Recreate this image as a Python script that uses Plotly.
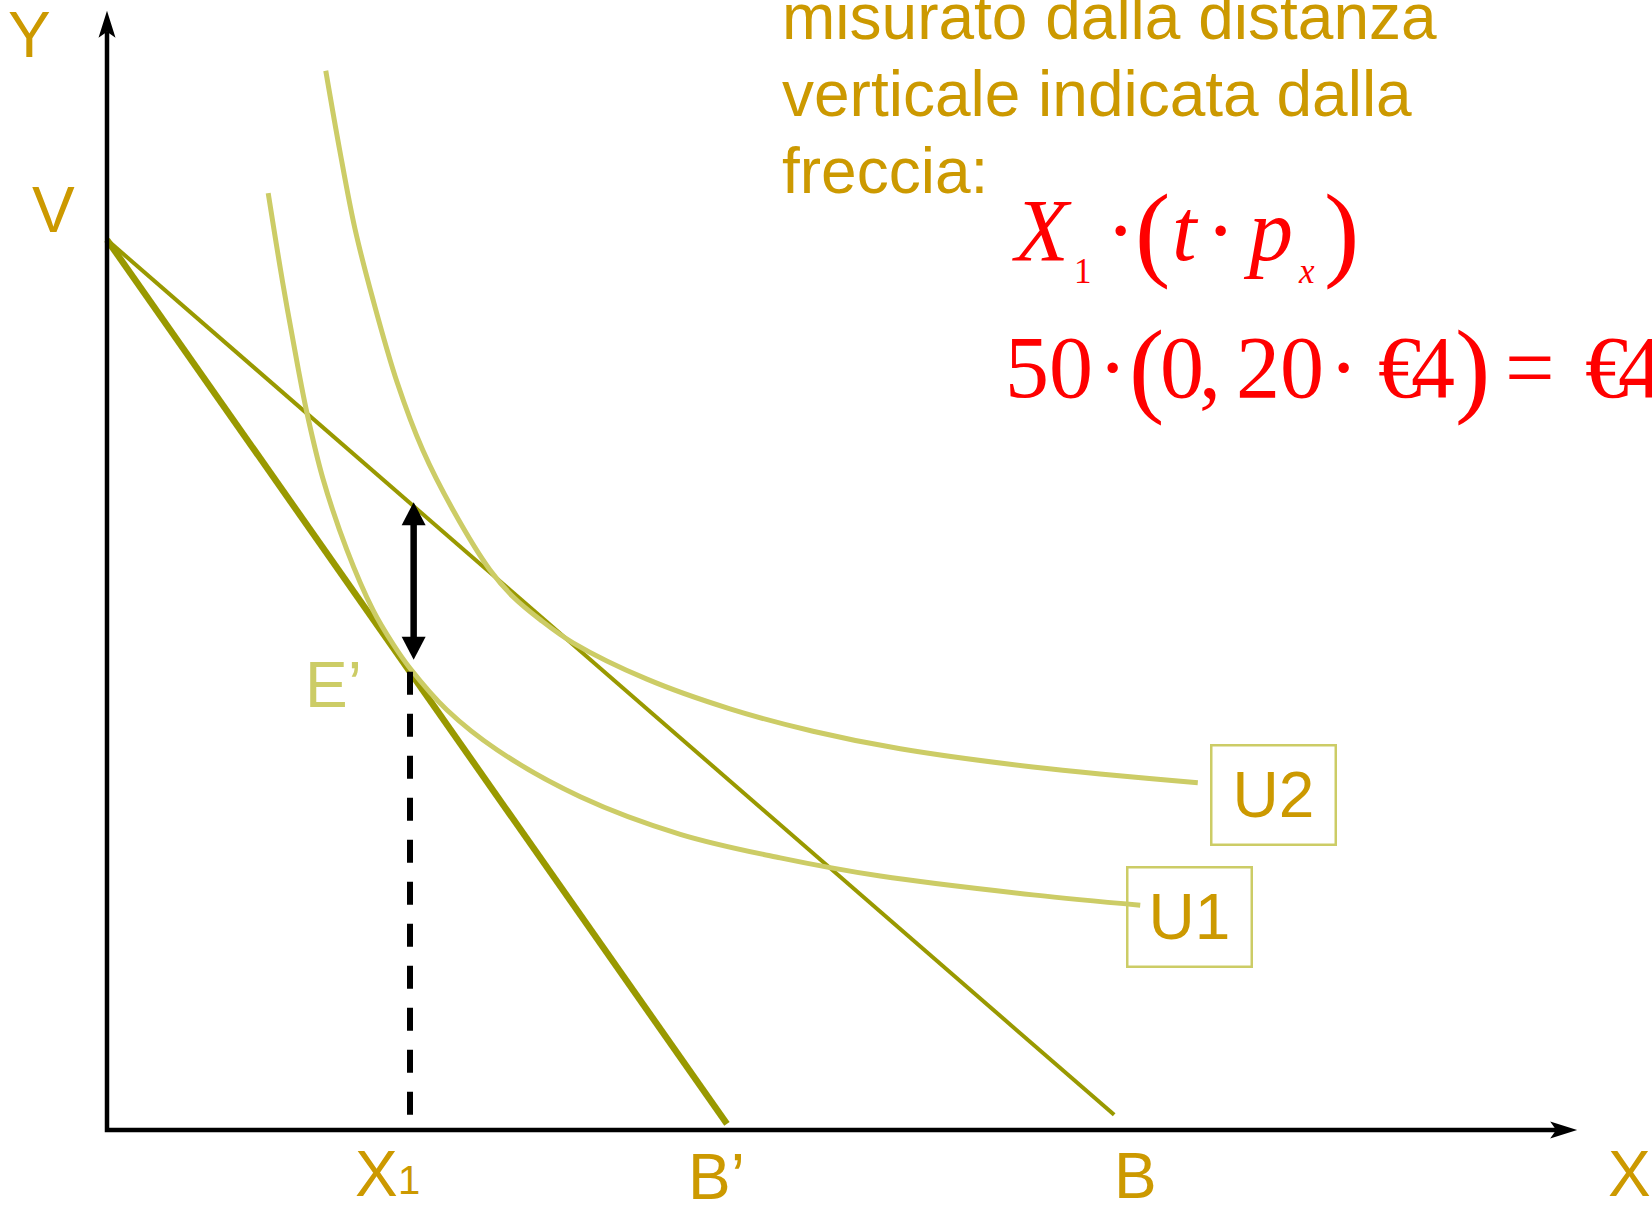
import plotly.graph_objects as go

# ---------------- data (units of good X / good Y) ----------------
x_axis_end = 242.6          # tip of the X axis arrow
y_axis_end = 184.7          # tip of the Y axis arrow

V = 146.9                   # common Y intercept of the budget lines
B_prime_end = [102.3, 1.0]  # end of budget line B'
B_end = [166.2, 2.5]        # end of budget line B

U1_x = [26.6, 29.0, 31.5, 33.0, 35.6, 39.6, 43.9, 47.2, 50.0, 56.1, 64.4, 78.1, 94.6, 111.1, 127.6, 152.8, 170.5]
U1_y = [154.6, 139.8, 125.9, 118.3, 107.6, 95.7, 85.8, 80.2, 76.2, 69.3, 62.7, 55.0, 48.8, 44.9, 41.9, 38.8, 37.1]
U2_x = [36.1, 38.4, 40.9, 43.9, 47.9, 52.1, 57.1, 63.2, 67.0, 71.5, 76.9, 89.1, 102.8, 116.5, 130.9, 152.8, 180.0]
U2_y = [174.8, 161.7, 148.8, 137.0, 123.3, 112.2, 102.3, 92.4, 88.0, 84.2, 80.4, 74.4, 69.5, 65.8, 62.9, 59.9, 57.3]

X1 = 50.0                   # quantity X1
dash_top, dash_bottom = 75.6, 2.5
arrow_x = 50.6
arrow_top, arrow_bottom = 103.6, 77.6

axis_labels = ["Y", "V", "X", "B’", "B"]
curve_labels = ["U1", "U2"]
note_lines = ["misurato dalla distanza", "verticale indicata dalla", "freccia:"]

# ---------------- styling ----------------
W, H = 1652, 1208
K = 6.06                    # pixels per unit
OX, OY = 107, 1130          # pixel position of the origin
GOLD = "#CC9900"
OLIVE = "#999900"
LIGHT = "#CCCC66"
RED = "#FF0000"
SANS = "Liberation Sans, Arial, sans-serif"
SERIF = "Liberation Serif, Times New Roman, serif"

fig = go.Figure()


def line(x, y, color, width, dash=None, shape="linear"):
    fig.add_trace(go.Scatter(x=x, y=y, mode="lines", hoverinfo="skip", showlegend=False,
                             line=dict(color=color, width=width, dash=dash, shape=shape,
                                       smoothing=1.0 if shape == "spline" else None)))


def head(tip_x, tip_y, dx, dy, length, half_w, notch=0.0):
    bx, by = tip_x - length * dx, tip_y - length * dy
    nx, ny = -dy, dx
    xs = [tip_x, bx + half_w * nx, tip_x - (length - notch) * dx, bx - half_w * nx, tip_x]
    ys = [tip_y, by + half_w * ny, tip_y - (length - notch) * dy, by - half_w * ny, tip_y]
    fig.add_trace(go.Scatter(x=xs, y=ys, mode="lines", fill="toself", fillcolor="black",
                             line=dict(color="black", width=0), hoverinfo="skip", showlegend=False))


# budget lines
line([0, B_prime_end[0]], [V, B_prime_end[1]], OLIVE, 6.5)
line([0, B_end[0]], [V, B_end[1]], OLIVE, 4)
# indifference curves
line(U1_x, U1_y, LIGHT, 5, shape="spline")
line(U2_x, U2_y, LIGHT, 5, shape="spline")
# dashed drop line
line([X1, X1], [dash_top, dash_bottom], "black", 6, dash="23px,19px")
# double arrow
AH_L, AH_W = 23 / K, 12 / K
line([arrow_x, arrow_x], [arrow_bottom + AH_L * 0.9, arrow_top - AH_L * 0.9], "black", 6.5)
head(arrow_x, arrow_top, 0, 1, AH_L, AH_W)
head(arrow_x, arrow_bottom, 0, -1, AH_L, AH_W)
# axes
AX_L, AX_W, AX_N = 27 / K, 8.5 / K, 6 / K
line([0, 0, x_axis_end - AX_L + AX_N], [y_axis_end - AX_L + AX_N, 0, 0], "black", 4.5)
head(0, y_axis_end, 0, 1, AX_L, AX_W, AX_N)
head(x_axis_end, 0, 1, 0, AX_L, AX_W, AX_N)


# ---------------- text ----------------
def txt(text, cx, baseline, size, color=GOLD, family=SANS, anchor="center", **kw):
    off = 0.3465 if family == SANS else 0.3375
    cy = baseline - off * size
    fig.add_annotation(text=text, x=cx / W, y=1 - cy / H, xref="paper", yref="paper",
                       xanchor=anchor, yanchor="middle", showarrow=False,
                       font=dict(family=family, size=size, color=color), **kw)


txt(axis_labels[0], 29.5, 57, 64)
txt(axis_labels[1], 53, 232, 64)
txt(axis_labels[2], 1629, 1196, 64)
txt(axis_labels[3], 716, 1199, 64)
txt(axis_labels[4], 1135.5, 1198, 64)
txt("X", 376, 1196, 64)
txt("1", 409, 1194, 40)
txt("E’", 333.5, 707, 64, color=LIGHT)

txt(curve_labels[1], 1273, 817, 64, width=118, height=93, bordercolor=LIGHT,
    borderwidth=2.5, borderpad=2, align="center", valign="middle")
txt(curve_labels[0], 1189.5, 939, 64, width=118, height=93, bordercolor=LIGHT,
    borderwidth=2.5, borderpad=2, align="center", valign="middle")

for i, s in enumerate(note_lines):
    txt(s, 780, 39 + 77 * i, 64, anchor="left")

# formula line 1:  X1 · ( t · px )
FS = 88
b1 = 260
txt("<i>X</i>", 1041.5, b1, FS, RED, SERIF)
txt("1", 1082.5, 283, 35, RED, SERIF)
txt("·", 1120, b1, FS, RED, SERIF)
txt("(", 1152.5, 267.5, 106, RED, SERIF)
txt("<i>t</i>", 1185, b1, FS, RED, SERIF)
txt("·", 1220, b1, FS, RED, SERIF)
txt("<i>p</i>", 1268, b1, FS, RED, SERIF)
txt("<i>x</i>", 1306, 283, 35, RED, SERIF)
txt(")", 1341, 267.5, 106, RED, SERIF)

# formula line 2:  50 · (0,20 · €4) = €4
b2 = 397
txt("50", 1049, b2, FS, RED, SERIF)
txt("·", 1112, b2, FS, RED, SERIF)
txt("(", 1146, 403, 106, RED, SERIF)
txt("0", 1182, b2, FS, RED, SERIF)
txt(",", 1210, b2, FS, RED, SERIF)
txt("20", 1280, b2, FS, RED, SERIF)
txt("·", 1343, b2, FS, RED, SERIF)
txt("€", 1400, b2, FS, RED, SERIF)
txt("4", 1433, b2, FS, RED, SERIF)
txt(")", 1472.5, 403, 106, RED, SERIF)
txt("=", 1529.5, b2, FS, RED, SERIF)
txt("€", 1607, b2, FS, RED, SERIF)
txt("4", 1640, b2, FS, RED, SERIF)

fig.update_layout(
    width=W, height=H, autosize=False,
    margin=dict(l=0, r=0, t=0, b=0, pad=0),
    paper_bgcolor="white", plot_bgcolor="white",
    xaxis=dict(range=[-OX / K, (W - OX) / K], visible=False, fixedrange=True),
    yaxis=dict(range=[-(H - OY) / K, OY / K], visible=False, fixedrange=True),
)

fig.write_html("out.html", config={"displayModeBar": False},
               post_script="document.body.style.margin='0px';")
